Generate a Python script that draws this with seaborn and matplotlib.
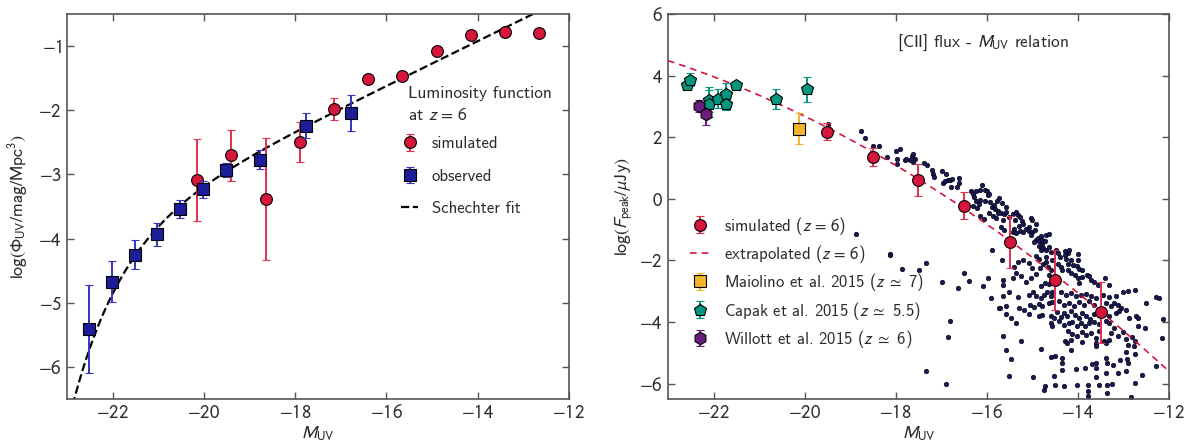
import numpy as np
import pandas as pd
import matplotlib
matplotlib.use("Agg")
import matplotlib.pyplot as plt
from matplotlib.ticker import FuncFormatter
import seaborn as sns

# ---------------- left panel: UV luminosity function at z = 6 ----------------
sim_lf_M = [-20.15, -19.40, -18.65, -17.90, -17.15, -16.40, -15.65, -14.90, -14.15, -13.40, -12.65]
sim_lf_phi = [-3.09, -2.70, -3.39, -2.49, -1.98, -1.51, -1.47, -1.07, -0.83, -0.78, -0.80]
sim_lf_err = [0.64, 0.40, 0.95, 0.31, 0.17, 0.06, 0.06, 0.03, 0.02, 0.02, 0.02]

obs_lf_M = [-22.52, -22.02, -21.52, -21.02, -20.52, -20.02, -19.52, -18.77, -17.77, -16.77]
obs_lf_phi = [-5.41, -4.67, -4.25, -3.93, -3.54, -3.23, -2.93, -2.77, -2.24, -2.04]
obs_lf_err = [0.69, 0.32, 0.23, 0.18, 0.14, 0.13, 0.11, 0.15, 0.19, 0.28]

# Schechter fit parameters (phi*, M*, alpha)
schechter_phi_star = 0.50e-3
schechter_M_star = -20.94
schechter_alpha = -1.87

# ---------------- right panel: [CII] flux vs M_UV ----------------
sim_cii_M = [-19.5, -18.5, -17.5, -16.5, -15.5, -14.5, -13.5]
sim_cii_F = [2.18, 1.36, 0.62, -0.22, -1.41, -2.63, -3.69]
sim_cii_err = [0.27, 0.30, 0.52, 0.45, 0.84, 0.98, 1.00]

# quadratic extrapolation: logF = c2*M^2 + c1*M + c0
extrap_coeffs = [-0.0395, -2.2995, -27.507]

maiolino_M = [-20.13]
maiolino_F = [2.27]
maiolino_err = [0.50]

capak_M = [-22.58, -22.51, -22.09, -22.10, -21.90, -21.73, -21.73, -21.51, -20.62, -19.94]
capak_F = [3.68, 3.87, 3.22, 3.09, 3.25, 3.41, 3.09, 3.70, 3.24, 3.55]
capak_err = [0.10, 0.20, 0.40, 0.45, 0.30, 0.35, 0.20, 0.05, 0.32, 0.40]

willott_M = [-22.33, -22.16]
willott_F = [3.02, 2.74]
willott_err = [0.20, 0.35]

# individual simulated galaxies
gal_M = [
    -19.49, -18.77, -18.68, -18.49,
    -18.36, -18.20, -17.99, -17.90, -17.98, -17.97, -17.80, -17.77, -17.65, -17.61,
    -17.68, -17.63, -17.58, -17.37, -17.32, -17.20, -17.19, -17.17, -16.98, -16.90,
    -16.97, -16.92, -16.86, -16.80, -16.76, -16.78, -16.66, -16.60, -16.62, -16.35,
    -16.31, -16.29, -16.24, -16.16, -16.11, -16.05, -16.00, -15.98, -15.95, -16.24,
    -16.18, -16.14, -16.30, -16.22, -16.16, -16.07, -16.03, -15.93, -15.89, -15.84,
    -15.82, -15.78, -15.76, -15.95, -15.87, -15.80, -15.76,
    -18.87, -18.12, -18.12, -17.86, -17.48, -17.33, -16.99, -16.64, -16.51, -16.40,
    -16.08, -15.97, -15.89, -15.91, -15.74, -16.80, -16.86, -17.33, -16.89,
    -15.73, -15.67, -15.58, -15.69, -15.62, -15.57, -15.51, -15.42, -15.36, -15.32,
    -15.38, -15.27, -15.23, -15.20, -15.30, -15.40, -15.43, -15.35, -15.27, -15.20,
    -15.13, -15.07, -15.03, -15.00, -14.92, -15.08, -15.00, -14.95, -15.02, -14.92,
    -14.97, -14.88, -14.85, -14.82, -14.78, -14.79, -14.73, -14.70, -14.63, -14.86,
    -14.82, -14.76, -14.69, -14.63, -14.59, -14.48, -14.44, -14.29, -14.22, -14.19,
    -14.40, -14.29, -14.26, -14.00, -13.99, -14.15, -14.22, -14.10, -14.03, -13.97,
    -13.90, -14.22, -14.15, -14.07, -14.00, -13.97, -13.90, -13.81, -13.75, -13.71,
    -13.64, -13.56, -13.40, -13.31, -15.69, -15.62, -15.65, -15.67, -15.32, -15.20,
    -15.40, -15.36, -15.43, -15.24, -15.13, -15.02, -14.92, -14.83, -14.76, -14.69,
    -14.66, -14.59, -14.63, -14.44, -14.37, -14.34, -15.65, -15.64, -14.73, -14.80,
    -14.63, -15.00, -15.07, -14.92, -14.85, -14.70, -14.56,
    -15.64, -15.51, -15.32, -15.07, -14.99, -14.91, -14.81, -14.74, -14.67, -14.59,
    -14.56, -14.37, -14.26, -14.15, -14.05, -13.94, -13.83, -13.72, -13.61, -13.46,
    -13.31, -13.17, -13.01, -12.91, -15.70, -15.58, -15.29, -15.18, -15.05, -14.96,
    -14.85, -14.78, -14.64, -14.57, -14.42, -14.30, -14.19, -14.08, -13.97, -13.86,
    -13.75, -13.64, -13.39, -13.28, -13.20, -13.11, -13.06, -12.95, -15.57, -15.47,
    -15.07, -14.86, -14.78, -14.59, -14.52, -14.45, -14.37, -14.30, -14.23, -14.15,
    -14.06, -13.97, -13.91, -13.83, -13.74, -13.64, -13.31, -13.17, -13.09, -12.88,
    -15.36, -14.59, -14.56, -14.41, -14.30, -14.19, -14.12, -14.03, -13.94, -13.84,
    -13.75, -13.64, -13.53, -13.39, -13.31, -13.20, -15.65, -14.21, -14.12, -14.01,
    -13.91, -13.83, -13.72, -13.61, -13.53, -13.28, -13.11, -12.95, -13.01, -14.28,
    -14.23, -14.15, -13.90, -13.61, -13.42, -13.31, -12.91, -15.25, -15.58, -14.81,
    -14.15, -13.61, -13.39, -12.95, -15.47, -14.59, -14.50, -14.34, -14.35, -13.68,
    -13.61, -13.39, -13.37, -13.24, -13.08, -12.93, -12.91, -14.35, -14.05, -13.84,
    -13.61, -15.52, -14.98, -14.52, -13.61, -13.39, -13.13, -12.95, -14.72, -14.50,
    -14.30, -14.03, -13.77, -13.53, -13.37, -13.26, -14.74, -13.77, -13.77, -13.37,
    -12.74, -12.51, -12.29, -12.23, -12.72, -12.68, -12.14, -12.16, -12.68, -12.52,
    -12.82, -12.74, -12.77, -12.75, -12.29, -12.60, -12.74, -12.84,
]
gal_F = [
    2.43, 2.19, 1.96, 1.72,
    1.70, 1.36, 1.54, 1.62, 1.30, 1.13, 1.27, 1.30, 1.39, 1.45,
    1.27, 1.20, 1.30, 1.15, 1.09, 0.92, 0.82, 0.70, 0.90, 0.80,
    0.51, 0.57, 0.62, 0.60, 0.64, 0.38, 0.38, 0.67, 0.51, 0.24,
    0.17, 0.06, 0.24, 0.27, 0.45, 0.27, 0.24, 0.13, 0.17, -0.08,
    -0.16, -0.03, -0.22, -0.30, -0.57, -0.66, -0.07, -0.12, -0.27, -0.19,
    -0.33, -0.07, -0.41, -0.46, -0.57, -0.63, -0.46,
    -1.15, -1.78, -1.84, -2.28, -2.32, -2.09, -2.69, -2.88, -2.42, -2.67,
    -2.84, -2.57, -1.67, -3.21, -3.55, -3.98, -4.50, -5.58, -6.01,
    0.03, -0.14, -0.27, -0.46, -0.49, -0.44, -0.59, -0.48, -0.44, -0.54,
    -0.68, -0.59, -0.73, -0.81, -0.87, -0.98, -1.09, -1.11, -1.06, -1.08,
    -0.98, -0.90, -0.62, -0.70, -0.82, -1.03, -1.09, -1.00, -1.18, -1.33,
    -1.39, -1.27, -1.37, -1.22, -1.33, -1.48, -1.37, -1.18, -1.14, -1.54,
    -1.65, -1.61, -1.65, -1.58, -1.72, -1.65, -1.76, -1.70, -1.76, -1.67,
    -1.89, -1.83, -1.96, -1.80, -1.98, -2.00, -2.12, -2.15, -2.19, -2.28,
    -2.30, -2.30, -2.42, -2.48, -2.58, -2.74, -2.54, -2.46, -2.52, -2.65,
    -2.69, -2.80, -2.57, -2.79, -0.90, -1.00, -0.68, -1.98, -2.04, -1.98,
    -2.22, -2.42, -2.57, -2.52, -2.69, -2.58, -2.43, -2.26, -2.11, -2.04,
    -2.22, -2.32, -2.48, -2.11, -2.22, -2.32, -2.65, -2.80, -2.74, -2.82,
    -2.76, -2.25, -2.09, -1.87, -1.96, -1.89, -1.98,
    -3.15, -3.04, -3.19, -3.11, -3.01, -3.17, -3.22, -3.11, -3.04, -3.17,
    -3.01, -3.01, -3.11, -3.06, -3.17, -3.11, -3.08, -3.15, -3.22, -3.11,
    -3.19, -3.15, -3.01, -2.98, -3.55, -3.47, -3.55, -3.60, -3.44, -3.51,
    -3.41, -3.47, -3.38, -3.36, -3.33, -3.44, -3.38, -3.47, -3.36, -3.44,
    -3.33, -3.44, -3.38, -3.49, -3.38, -3.44, -3.55, -3.60, -3.73, -3.87,
    -3.73, -3.80, -3.76, -3.82, -3.87, -3.69, -3.84, -3.71, -3.80, -3.65,
    -3.76, -3.87, -3.71, -3.82, -3.90, -3.73, -3.80, -3.71, -3.65, -3.87,
    -4.03, -4.03, -4.12, -3.98, -4.09, -4.03, -4.01, -4.14, -4.03, -4.12,
    -4.03, -4.01, -4.06, -3.98, -4.03, -4.20, -4.44, -4.30, -4.38, -4.47,
    -4.34, -4.41, -4.36, -4.52, -4.30, -4.36, -4.47, -4.55, -4.34, -4.63,
    -4.68, -4.57, -4.66, -4.68, -4.63, -4.60, -4.74, -4.63, -4.92, -4.88,
    -4.90, -4.77, -4.68, -4.99, -5.20, -5.15, -5.09, -5.17, -5.33, -5.35,
    -5.33, -5.17, -5.33, -5.39, -5.24, -5.20, -5.33, -5.55, -5.53, -5.49,
    -5.49, -5.74, -5.79, -5.74, -5.79, -5.66, -5.66, -5.60, -6.07, -6.04,
    -6.09, -6.04, -6.04, -6.04, -6.04, -6.00, -6.22, -6.25, -6.41, -6.31,
    -2.95, -3.37, -3.19, -3.23, -3.82, -3.87, -3.90, -4.52, -4.14, -4.20,
    -4.49, -4.63, -4.79, -5.03, -5.42, -5.72, -5.99, -6.44,
]

# ---------------- style ----------------
sns.set_style("ticks", {"xtick.direction": "in", "ytick.direction": "in"})
TEXT = "#2b2b2b"
SPINE = "#555555"
plt.rcParams.update({
    "mathtext.fontset": "stixsans",
    "axes.formatter.use_mathtext": False,
    "axes.edgecolor": SPINE,
    "axes.linewidth": 1.2,
    "xtick.color": SPINE,
    "ytick.color": SPINE,
    "xtick.labelcolor": TEXT,
    "ytick.labelcolor": TEXT,
    "xtick.major.size": 5,
    "ytick.major.size": 5,
    "xtick.major.width": 1.0,
    "ytick.major.width": 1.0,
    "xtick.top": True,
    "ytick.right": True,
    "xtick.labelsize": 13.5,
    "ytick.labelsize": 13.5,
    "axes.labelsize": 13,
    "axes.labelcolor": TEXT,
    "text.color": TEXT,
})
plt.rcParams["font.family"] = ["cmss10", "DejaVu Sans"]

RED = "#d7163c"
RED_BAR = "#e0304f"
BLUE = "#1d1d9a"
BLUE_BAR = "#3535c0"
TEAL = "#04977f"
PURPLE = "#6a1d7c"
GOLD = "#f0b52a"
DOT = "#17175a"

math_ticks = FuncFormatter(lambda v, pos: f"${v:g}$")

W, H = 1193, 442
fig = plt.figure(figsize=(W / 100, H / 100), dpi=100)
ax1 = fig.add_axes([67 / W, 1 - 399 / H, 502 / W, 385 / H])
ax2 = fig.add_axes([668 / W, 1 - 399 / H, 501 / W, 385 / H])

# ---------------- left panel ----------------
M_grid = np.linspace(-23.0, -12.0, 400)
x = 10 ** (-0.4 * (M_grid - schechter_M_star))
phi = 0.4 * np.log(10) * schechter_phi_star * x ** (schechter_alpha + 1) * np.exp(-x)
fit_df = pd.DataFrame({"M": M_grid, "logphi": np.log10(phi)})
sns.lineplot(data=fit_df, x="M", y="logphi", ax=ax1, color="black",
             linestyle="--", linewidth=1.6, zorder=2)
line_handle = ax1.get_lines()[0]

h_sim = ax1.errorbar(sim_lf_M, sim_lf_phi, yerr=sim_lf_err, fmt="o", ms=8.5,
                     mfc=RED, mec="black", mew=0.8, ecolor=RED_BAR, elinewidth=1.4,
                     capsize=3, capthick=1.2, zorder=3)
h_obs = ax1.errorbar(obs_lf_M, obs_lf_phi, yerr=obs_lf_err, fmt="s", ms=8.5,
                     mfc=BLUE, mec="black", mew=0.8, ecolor=BLUE_BAR, elinewidth=1.4,
                     capsize=3, capthick=1.2, zorder=4)

ax1.set_xlim(-23, -12)
ax1.set_ylim(-6.5, -0.5)
ax1.set_xticks(range(-22, -11, 2))
ax1.set_yticks(range(-6, 0))
ax1.xaxis.set_major_formatter(math_ticks)
ax1.yaxis.set_major_formatter(math_ticks)
ax1.set_xlabel(r"$M_{\rm UV}$", labelpad=2)
ax1.set_ylabel(r"$\log(\Phi_{\rm UV}/{\rm mag}/{\rm Mpc}^3)$", labelpad=6)

ax1.text(0.680, 0.812, "Luminosity function\nat $z\\,=\\,6$", transform=ax1.transAxes,
         ha="left", va="top", fontsize=12.5, linespacing=1.3)
ax1.legend([h_sim, h_obs, line_handle], ["simulated", "observed", "Schechter fit"],
           loc="upper left", bbox_to_anchor=(0.652, 0.70), frameon=False, fontsize=12,
           handlelength=1.05, labelspacing=1.05, handletextpad=0.8, borderaxespad=0)

# ---------------- right panel ----------------
gal_df = pd.DataFrame({"M": gal_M, "logF": gal_F})
sns.scatterplot(data=gal_df, x="M", y="logF", ax=ax2, s=11, color=DOT,
                edgecolor="black", linewidth=0.4, zorder=1, legend=False)

ext_M = np.linspace(-23.0, -12.0, 200)
ext_df = pd.DataFrame({"M": ext_M, "logF": np.polyval(extrap_coeffs, ext_M)})
sns.lineplot(data=ext_df, x="M", y="logF", ax=ax2, color=RED, linestyle=(0, (4, 3)),
             linewidth=1.2, zorder=2)
ext_handle = ax2.get_lines()[0]

h_sc = ax2.errorbar(sim_cii_M, sim_cii_F, yerr=sim_cii_err, fmt="o", ms=8.5,
                    mfc=RED, mec="black", mew=0.8, ecolor=RED_BAR, elinewidth=1.4,
                    capsize=3, capthick=1.2, zorder=5)
h_mai = ax2.errorbar(maiolino_M, maiolino_F, yerr=maiolino_err, fmt="s", ms=8.5,
                     mfc=GOLD, mec="black", mew=0.8, ecolor=GOLD, elinewidth=1.4,
                     capsize=3, capthick=1.2, zorder=5)
h_cap = ax2.errorbar(capak_M, capak_F, yerr=capak_err, fmt="p", ms=9,
                     mfc=TEAL, mec="black", mew=0.8, ecolor=TEAL, elinewidth=1.4,
                     capsize=3, capthick=1.2, zorder=5)
h_wil = ax2.errorbar(willott_M, willott_F, yerr=willott_err, fmt="h", ms=9,
                     mfc=PURPLE, mec="black", mew=0.8, ecolor=PURPLE, elinewidth=1.4,
                     capsize=3, capthick=1.2, zorder=5)

ax2.set_xlim(-23, -12)
ax2.set_ylim(-6.5, 6)
ax2.set_xticks(range(-22, -11, 2))
ax2.set_yticks(range(-6, 7, 2))
ax2.xaxis.set_major_formatter(math_ticks)
ax2.yaxis.set_major_formatter(math_ticks)
ax2.set_xlabel(r"$M_{\rm UV}$", labelpad=2)
ax2.set_ylabel(r"$\log(F_{\rm peak}/\mu{\rm Jy})$", labelpad=4)
ax2.text(0.457, 0.925, r"[CII] flux - $M_{\rm UV}$ relation", transform=ax2.transAxes,
         ha="left", va="center", fontsize=12.5)

ax2.legend([h_sc, ext_handle, h_mai, h_cap, h_wil],
           [r"simulated ($z\,=\,6$)", r"extrapolated ($z\,=\,6$)",
            r"Maiolino et al. 2015 ($z\;\simeq$ 7)", r"Capak et al. 2015 ($z\;\simeq$ 5.5)",
            r"Willott et al. 2015 ($z\;\simeq$ 6)"],
           loc="lower left", bbox_to_anchor=(0.03, 0.11), frameon=False, fontsize=12,
           handlelength=1.2, labelspacing=0.38, handletextpad=0.85, borderaxespad=0)

for ax in (ax1, ax2):
    for s in ax.spines.values():
        s.set_color(SPINE)
        s.set_visible(True)

fig.savefig("out.png", dpi=100)
